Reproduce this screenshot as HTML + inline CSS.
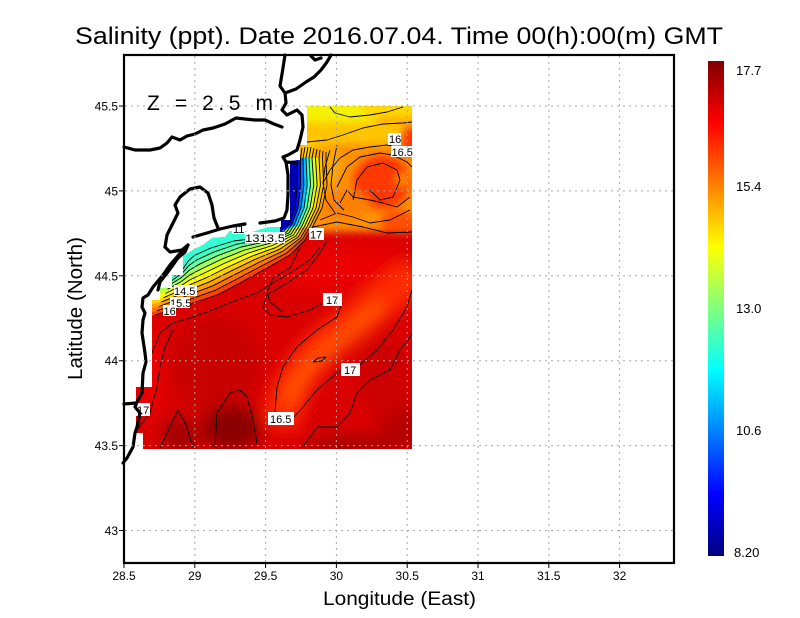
<!DOCTYPE html>
<html><head><meta charset="utf-8"><style>html,body{margin:0;padding:0;background:#fff}svg{display:block}text{font-family:"Liberation Sans",sans-serif}</style></head><body>
<svg width="800" height="618" viewBox="0 0 800 618" xmlns="http://www.w3.org/2000/svg">
<defs>
<clipPath id="dc"><path d="M307,106 L412,106 L412,449 L143,449 L143,433 L136,433 L136,387 L152,387 L152,300 L160,300 L160,288 L172,288 L172,275 L183,275 L183,256 L188,253 L193,250 L203,245 L207,242 L212,238 L225,237 L230,231 L245,231 L250,233 L262,229 L270,227 L281,227 L281,220 L290,220 L290,161 L300,160 L300,145 L307,145 Z"/></clipPath>
<filter id="bl" x="-50%" y="-50%" width="200%" height="200%"><feGaussianBlur stdDeviation="8"/></filter>
<filter id="bl2" x="-50%" y="-50%" width="200%" height="200%"><feGaussianBlur stdDeviation="4"/></filter>
<linearGradient id="cb" x1="0" y1="0" x2="0" y2="1">
<stop offset="0" stop-color="#800000"/><stop offset="0.125" stop-color="#ff0000"/><stop offset="0.375" stop-color="#ffff00"/><stop offset="0.625" stop-color="#00ffff"/><stop offset="0.875" stop-color="#0000ff"/><stop offset="1" stop-color="#000080"/>
</linearGradient>
</defs>

<g clip-path="url(#dc)">
<rect x="120" y="90" width="310" height="370" fill="#da0000"/>
<g filter="url(#bl)">
<ellipse cx="215" cy="365" rx="45" ry="50" fill="#c80000"/>
<ellipse cx="232" cy="428" rx="30" ry="22" fill="#8a0000"/>
<ellipse cx="180" cy="437" rx="18" ry="20" fill="#a40000"/>
<ellipse cx="350" cy="447" rx="45" ry="12" fill="#a80000"/>
<ellipse cx="400" cy="428" rx="20" ry="25" fill="#b40000"/>
<ellipse cx="148" cy="370" rx="12" ry="45" fill="#f00000"/>
<ellipse cx="385" cy="380" rx="25" ry="40" fill="#cc0000"/>
<ellipse cx="340" cy="268" rx="70" ry="22" fill="#ec0000"/>
<path d="M280,428 C285,395 300,365 330,340 S385,300 418,272" stroke="#ff2a00" stroke-width="36" fill="none"/>
<path d="M288,405 C295,380 310,362 330,348 S360,325 382,303" stroke="#ff5500" stroke-width="14" fill="none"/>
</g>
<g filter="url(#bl2)">
<rect x="298" y="80" width="132" height="152" fill="#ff9000"/>
<rect x="296" y="92" width="80" height="32" fill="#f4f200"/>
<rect x="362" y="92" width="60" height="26" fill="#ffd800"/>
<rect x="300" y="122" width="115" height="22" fill="#ffc400"/>
<ellipse cx="306" cy="150" rx="10" ry="10" fill="#ffd000"/>
<ellipse cx="325" cy="165" rx="16" ry="22" fill="#ffa800"/>
<ellipse cx="382" cy="182" rx="30" ry="28" fill="#ff3800"/>
<ellipse cx="402" cy="180" rx="7" ry="8" fill="#ff8000"/>
<ellipse cx="410" cy="140" rx="10" ry="15" fill="#ff3400"/>
<ellipse cx="345" cy="205" rx="25" ry="14" fill="#ff8000"/>
<ellipse cx="400" cy="222" rx="20" ry="12" fill="#ff5000"/>
</g>
<!-- coastal band fills (cold side of each contour) -->
<polygon fill="#ff4000" points="312,228 305,240 290,255 267,268 240,283 217,295 193,303 177,308 155,315 140,320 140,200 285,200"/>
<polygon fill="#ff7000" points="309.5,227.5 302.7,239 286.5,253.1 263.3,265 236.8,279.1 214.5,290.6 192.5,298.3 177.7,303.6 157.1,310.7 140,316 140,200 285,200"/>
<polygon fill="#ffa000" points="307,227 300.4,238 283,251.2 259.6,262 233.6,275.2 212,286.2 192,293.6 178.4,299.2 159.2,306.4 140,311 140,200 285,200"/>
<polygon fill="#ffd000" points="304.5,226.5 298.1,237 279.5,249.3 255.9,259 230.4,271.3 209.5,281.8 191.5,288.9 179.1,294.8 161.3,302.1 140,307 140,200 285,200"/>
<polygon fill="#ffff00" points="302,226 295.8,236 276,247.4 252.2,256 227.2,267.4 207,277.4 191,284.2 179.8,290.4 163.4,297.8 140,303 140,200 285,200"/>
<polygon fill="#d8ff28" points="299.5,225.5 293.5,235 272.5,245.5 248.5,253 224,263.5 204.5,273 190.5,279.5 180.5,286 165.5,293.5 140,299 140,200 285,200"/>
<polygon fill="#a0ff60" points="297,225 291.2,234 269,243.6 244.8,250 220.8,259.6 202,268.6 190,274.8 181.2,281.6 167.6,289.2 140,295 140,200 285,200"/>
<polygon fill="#60ffa0" points="294.5,224.5 288.9,233 265.5,241.7 241.1,247 217.6,255.7 199.5,264.2 189.5,270.1 181.9,277.2 169.7,284.9 140,290 140,200 285,200"/>
<polygon fill="#40ffc0" points="292,224 286.6,232 262,239.8 237.4,244 214.4,251.8 197,259.8 189,265.4 182.6,272.8 171.8,280.6 140,286 140,200 285,200"/>
<polygon fill="#30ffd8" points="289.5,223.5 284.3,231 258.5,237.9 233.7,241 211.2,247.9 194.5,255.4 188.5,260.7 183.3,268.4 173.9,276.3 140,282 140,200 285,200"/>
<!-- strip fills -->
<polygon fill="#ffa000" points="280,158 326,158 327,185 322,208 312,228 280,232"/>
<polygon fill="#ffc000" points="280,158 322.5,158 323.7,185 319,208 309.5,227.5 280,232"/>
<polygon fill="#ffe000" points="280,158 319,158 320.4,185 316,208 307,227 280,232"/>
<polygon fill="#e0ff20" points="280,158 315.5,158 317.1,185 313,208 304.5,226.5 280,232"/>
<polygon fill="#90ff70" points="280,158 312,158 313.8,185 310,208 302,226 280,232"/>
<polygon fill="#30ffd0" points="280,158 309,158 310.5,185 307,208 299.5,225.5 280,232"/>
<polygon fill="#00c8ff" points="280,158 306,158 307.2,185 304,208 297,225 280,232"/>
<polygon fill="#0070ff" points="280,158 303,158 303.9,185 301,208 294.5,224.5 280,232"/>
<polygon fill="#0010f0" points="280,158 300.5,158 300.6,185 298,208 292,224 280,232"/>
<polygon fill="#0000b0" points="280,158 297.5,158 297.3,185 295,208 289.5,223.5 280,232"/>
<!-- contour lines -->
<g fill="none" stroke="#000" stroke-width="0.9" stroke-linejoin="round">
<polyline points="300,150 297.5,158 297.3,185 295,208 289.5,223.5 284.3,231 258.5,237.9 233.7,241 211.2,247.9 194.5,255.4 188.5,260.7 183.3,268.4 173.9,276.3"/>
<polyline points="302,148 300.5,158 300.6,185 298,208 292,224 286.6,232 262,239.8 237.4,244 214.4,251.8 197,259.8 189,265.4 182.6,272.8 171.8,280.6"/>
<polyline points="305,147 303,158 303.9,185 301,208 294.5,224.5 288.9,233 265.5,241.7 241.1,247 217.6,255.7 199.5,264.2 189.5,270.1 181.9,277.2 169.7,284.9"/>
<polyline points="308,147 306,158 307.2,185 304,208 297,225 291.2,234 269,243.6 244.8,250 220.8,259.6 202,268.6 190,274.8 181.2,281.6 167.6,289.2"/>
<polyline points="311,147 309,158 310.5,185 307,208 299.5,225.5 293.5,235 272.5,245.5 248.5,253 224,263.5 204.5,273 190.5,279.5 180.5,286 165.5,293.5"/>
<polyline points="314,148 312,158 313.8,185 310,208 302,226 295.8,236 276,247.4 252.2,256 227.2,267.4 207,277.4 191,284.2 179.8,290.4 163.4,297.8"/>
<polyline points="317,149 315.5,158 317.1,185 313,208 304.5,226.5 298.1,237 279.5,249.3 255.9,259 230.4,271.3 209.5,281.8 191.5,288.9 179.1,294.8 161.3,302.1"/>
<polyline points="320,150 319,158 320.4,185 316,208 307,227 300.4,238 283,251.2 259.6,262 233.6,275.2 212,286.2 192,293.6 178.4,299.2 159.2,306.4"/>
<polyline points="323,151 322.5,158 323.7,185 319,208 309.5,227.5 302.7,239 286.5,253.1 263.3,265 236.8,279.1 214.5,290.6 192.5,298.3 177.7,303.6 157.1,310.7"/>
<polyline points="326,152 326,158 327,185 322,208 312,228 305,240 290,255 267,268 240,283 217,295 193,303 177,308 155,315"/>
<polyline points="330,107 335,113 350,117 370,115 387,112 403,107"/>
<polyline points="307,142 327,140 343,135 363,128 383,124 403,123 412,122"/>
<polyline points="323,183 330,170 340,158 353,150 370,147 387,145 392,146"/>
<polyline points="337,187 347,167 360,157 380,153 393,155 407,162 412,167"/>
<polyline points="353,200 357,180 367,167 383,163 397,170 400,180 393,197 380,200 370,190"/>
<polyline points="340,203 347,190 353,197 370,200 383,203 397,207 410,197"/>
<polyline points="320,220 337,213 353,217 370,223 390,220 410,210"/>
<polyline points="313,227 337,222 363,227 387,233 412,232"/>
<polyline points="330,150 325,167 323,183 326,200 335,213"/>
<polyline points="337,145 333,165 331,185 334,200 344,210"/>
<polyline points="300,248 290,268 273,278 267,292 270,302 283,312"/>
<polyline points="263,307 267,295 287,283 307,270 320,253 327,241"/>
<polyline points="263,307 270,315 287,317 310,310 323,303"/>
<polyline points="342,303 337,317 317,330 297,347 283,367 277,387 275,412"/>
<polyline points="293,418 303,407 317,390 337,373 342,370"/>
<polyline points="360,365 377,350 393,330 407,307 413,287"/>
<polyline points="303,447 317,427 337,427 350,413 357,393 370,380 390,370 400,350 413,333"/>
<polyline points="160,448 167,433 178,410 186,425 193,447"/>
<polyline points="215,447 217,413 230,393 240,390 247,397 253,420 257,443"/>
<polyline points="152,353 160,333 173,323 190,318 207,312 220,307 237,300 257,293 273,283 290,273 310,260 320,247"/>
<polyline points="137,430 150,413 157,387 160,367 165,347 173,330"/>
<polyline points="313,362 318,358 326,357 322,361 313,362"/>
</g>
</g>

<!-- contour labels -->
<g font-size="11" fill="#000">
<rect x="388" y="133" width="13" height="12" fill="#fff"/><text x="389" y="143">16</text>
<rect x="391" y="146" width="22" height="11" fill="#fff"/><text x="391.5" y="156">16.5</text>
<rect x="309" y="228" width="15" height="12" fill="#fff"/><text x="310" y="238.5">17</text>
<rect x="323" y="293" width="19" height="13" fill="#fff"/><text x="326" y="304">17</text>
<rect x="341" y="363" width="19" height="13" fill="#fff"/><text x="344" y="374">17</text>
<rect x="268" y="412" width="26" height="13" fill="#fff"/><text x="270" y="423">16.5</text>
<rect x="136" y="403" width="14" height="13" fill="#fff"/><text x="137" y="414">17</text>
<rect x="174" y="285" width="23" height="11" fill="#fff"/><text x="174" y="295">14.5</text>
<rect x="170" y="297" width="20" height="11" fill="#fff"/><text x="170" y="307">15.5</text>
<rect x="163" y="305" width="13" height="11" fill="#fff"/><text x="163.5" y="315">16</text>
<rect x="232" y="225" width="13" height="9" fill="#fff"/><text x="233" y="233">11</text>
<rect x="245" y="232" width="40" height="11" fill="#fff"/><text x="245" y="242" textLength="40" lengthAdjust="spacingAndGlyphs">1313.5</text>
</g>

<!-- coastlines -->
<g fill="none" stroke="#000" stroke-width="3.2" stroke-linejoin="round" stroke-linecap="round">
<polyline points="331,55 327,62 321,70 314,77 306,82 296,89 285,93 280,86 283,68 285,55"/>
<polyline points="311,56 315,60 321,58"/>
<polyline points="285,93 286,103 282,110 287,115 297,110 302,115 303,127 300,140 297,150 288,155 283,157 286,162 297,163"/>
<polyline points="286,162 288,175 288,195 287,210 284,218 275,221 260,223"/>
<polyline points="124,147 135,150 150,150 160,148 167,143 172,137 180,140 187,136 195,134 203,130 213,128 225,124 236,118 245,119 255,120 265,120 274,124 282,127"/>
<polyline points="165,247 167,235 173,223 178,213 175,205 180,197 190,189 200,187 208,193 212,205 214,218 218,228"/>
<polyline points="165,247 170,252 182,250 188,245"/>
<polyline points="193,237 207,233 220,229 233,226 245,224"/>
<polyline points="188,245 185,252 178,258 173,265 167,273 160,282 158,290"/>
<polyline points="183,250 170,265 163,275 153,287 148,295 143,298 142,307 145,313 143,320 142,333 145,353 146,362 143,373 142,393 138,400 135,407 140,413 137,427 135,433 133,447 127,458 123,463"/>
<polyline points="124,404 136,403"/>
</g>

<!-- grid -->
<g stroke="#a8a8a8" stroke-width="1" stroke-dasharray="2,4" fill="none">
<path d="M194.8,56V562 M265.6,56V562 M336.4,56V562 M407.2,56V562 M478,56V562 M548.8,56V562 M619.6,56V562"/>
<path d="M125,106H673 M125,190.9H673 M125,275.8H673 M125,360.7H673 M125,445.6H673 M125,530.5H673"/>
</g>

<!-- frame and ticks -->
<rect x="124" y="55" width="550" height="508" fill="none" stroke="#000" stroke-width="2.2"/>
<g stroke="#000" stroke-width="1">
<path d="M124,564V568 M194.8,564V568 M265.6,564V568 M336.4,564V568 M407.2,564V568 M478,564V568 M548.8,564V568 M619.6,564V568"/>
<path d="M119,106H123 M119,190.9H123 M119,275.8H123 M119,360.7H123 M119,445.6H123 M119,530.5H123"/>
</g>

<g font-size="12" fill="#000" text-anchor="middle">
<text x="124" y="580">28.5</text><text x="194.8" y="580">29</text><text x="265.6" y="580">29.5</text><text x="336.4" y="580">30</text><text x="407.2" y="580">30.5</text><text x="478" y="580">31</text><text x="548.8" y="580">31.5</text><text x="619.6" y="580">32</text>
</g>
<g font-size="12" fill="#000" text-anchor="end">
<text x="118" y="110.5">45.5</text><text x="118" y="195.4">45</text><text x="118" y="280.3">44.5</text><text x="118" y="365.2">44</text><text x="118" y="450.1">43.5</text><text x="118" y="535">43</text>
</g>

<text x="75" y="44" font-size="24" textLength="648" lengthAdjust="spacingAndGlyphs">Salinity (ppt). Date 2016.07.04. Time 00(h):00(m) GMT</text>
<text x="147" y="110" font-size="21" textLength="126" lengthAdjust="spacing">Z = 2.5 m</text>
<text x="323" y="605" font-size="19" textLength="153" lengthAdjust="spacingAndGlyphs">Longitude (East)</text>
<text transform="translate(82,380) rotate(-90)" x="0" y="0" font-size="20" textLength="143" lengthAdjust="spacingAndGlyphs">Latitude (North)</text>

<!-- colorbar -->
<rect x="708" y="61" width="16" height="495" fill="url(#cb)"/>
<g font-size="13" fill="#000">
<text x="736" y="75">17.7</text><text x="736" y="191">15.4</text><text x="736" y="313">13.0</text><text x="736" y="435">10.6</text><text x="734" y="557">8.20</text>
</g>
</svg>
</body></html>
